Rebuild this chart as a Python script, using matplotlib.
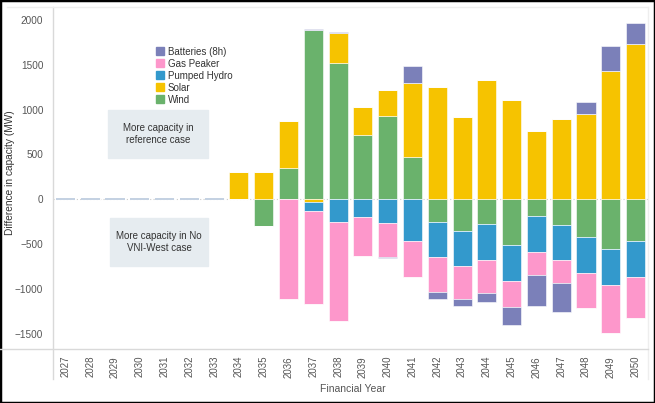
import matplotlib.pyplot as plt
from matplotlib.patches import Patch, Rectangle
from matplotlib.lines import Line2D
import numpy as np

plt.rcParams["font.family"] = ["Liberation Sans", "DejaVu Sans"]

# data (MW difference, reference minus No VNI-West)
years = list(range(2027, 2051))
pad = [0] * 7
wind = pad + [0, -300, 350, 1890, 1515, 720, 930, 470, -250, -350, -280, -510, -186, -286, -420, -557, -461]
solar = pad + [305, 305, 520, -30, 338, 305, 290, 825, 1254, 920, 1329, 1106, 761, 895, 950, 1433, 1733]
pumped_hydro = pad + [0, 0, 0, -104, -253, -197, -268, -461, -397, -393, -401, -398, -401, -394, -401, -398, -405]
gas_peaker = pad + [0, 0, -1111, -1032, -1099, -435, -372, -401, -390, -364, -367, -293, -253, -249, -390, -534, -456]
batteries = pad + [0, 0, 0, 10, 10, 0, -10, 192, -74, -78, -97, -204, -349, -330, 131, 275, 234]

# stacking order outward from zero
series = [
    ("Wind", wind, "#6ab26c"),
    ("Solar", solar, "#f6c300"),
    ("Pumped Hydro", pumped_hydro, "#3399cc"),
    ("Gas Peaker", gas_peaker, "#fd97cb"),
    ("Batteries (8h)", batteries, "#7b80b9"),
]
legend_order = ["Batteries (8h)", "Gas Peaker", "Pumped Hydro", "Solar", "Wind"]

fig = plt.figure(figsize=(6.55, 4.03), dpi=100)
ax = fig.add_axes([53 / 655, 1 - 349 / 403, 595 / 655, 342 / 403])

x = np.arange(len(years))
w = 0.77
pos_base = np.zeros(len(years))
neg_base = np.zeros(len(years))
for name, vals, col in series:
    v = np.array(vals, dtype=float)
    p = np.where(v > 0, v, 0)
    n = np.where(v < 0, v, 0)
    ax.bar(x, p, w, bottom=pos_base, color=col, edgecolor="white", linewidth=0.4)
    ax.bar(x, n, w, bottom=neg_base, color=col, edgecolor="white", linewidth=0.4)
    pos_base += p
    neg_base += n

# empty years show as a thin stub at zero
empty = (pos_base == 0) & (neg_base == 0)
ax.bar(x[empty], np.zeros(empty.sum()), w, color="none", edgecolor="#b9c9dd", linewidth=1.2)

ax.axhline(0, color="#cccccc", linestyle=(0, (1, 2)), linewidth=0.8, zorder=0)

ax.set_xlim(-0.5, len(years) - 0.5)
ax.set_ylim(-1668, 2142)
ax.set_yticks([-1500, -1000, -500, 0, 500, 1000, 1500, 2000])
ax.set_xticks(x)
ax.set_xticklabels([str(y) for y in years], rotation=90, fontsize=7, color="#555555")
ax.tick_params(axis="y", labelsize=7.2, colors="#555555", length=0, pad=7)
ax.tick_params(axis="x", length=0, pad=5)
for s in ["top", "right", "bottom", "left"]:
    ax.spines[s].set_visible(False)
ax.set_ylabel("Difference in capacity (MW)", fontsize=7.3, color="#333333")
ax.yaxis.set_label_coords(-0.064, 0.515)
fig.text(0.5 + 25 / 655, 1 - 389 / 403, "Financial Year", ha="center", va="center",
         fontsize=7.5, color="#555555")

# frame lines like the original dashboard
gray = "#d9d9d9"
fig.add_artist(Line2D([53 / 655, 53 / 655], [1 - 7 / 403, 1 - 379 / 403], color=gray, lw=1))
fig.add_artist(Line2D([648 / 655, 648 / 655], [1 - 7 / 403, 1 - 379 / 403], color="#eeeeee", lw=1))
fig.add_artist(Line2D([0, 648 / 655], [1 - 349 / 403, 1 - 349 / 403], color=gray, lw=1))
fig.add_artist(Line2D([7 / 655, 648 / 655], [1 - 7 / 403, 1 - 7 / 403], color="#eeeeee", lw=1))
fig.add_artist(Rectangle((0, 0), 1, 1, transform=fig.transFigure, fill=False,
                         edgecolor="black", linewidth=2.5))

handles = [Patch(color=c, label=n) for n, _, c in series]
handles = sorted(handles, key=lambda h: legend_order.index(h.get_label()))
ax.legend(handles=handles, loc="upper left", bbox_to_anchor=(0.166, 0.895), frameon=False,
          fontsize=7, handlelength=0.9, handleheight=0.9, handletextpad=0.35,
          labelspacing=0.2, borderaxespad=0, labelcolor="#333333")

boxcol = "#e6ecf0"
ax.add_patch(Rectangle((0.0924, 0.558), 0.168, 0.140, transform=ax.transAxes,
                       color=boxcol, zorder=0))
ax.text(0.0924 + 0.084, 0.628, "More capacity in\nreference case", transform=ax.transAxes,
        ha="center", va="center", fontsize=7, color="#333333")
ax.add_patch(Rectangle((0.0958, 0.243), 0.165, 0.140, transform=ax.transAxes,
                       color=boxcol, zorder=0))
ax.text(0.0958 + 0.0825, 0.313, "More capacity in No\nVNI-West case", transform=ax.transAxes,
        ha="center", va="center", fontsize=7, color="#333333")

fig.savefig("out.png", dpi=100)
